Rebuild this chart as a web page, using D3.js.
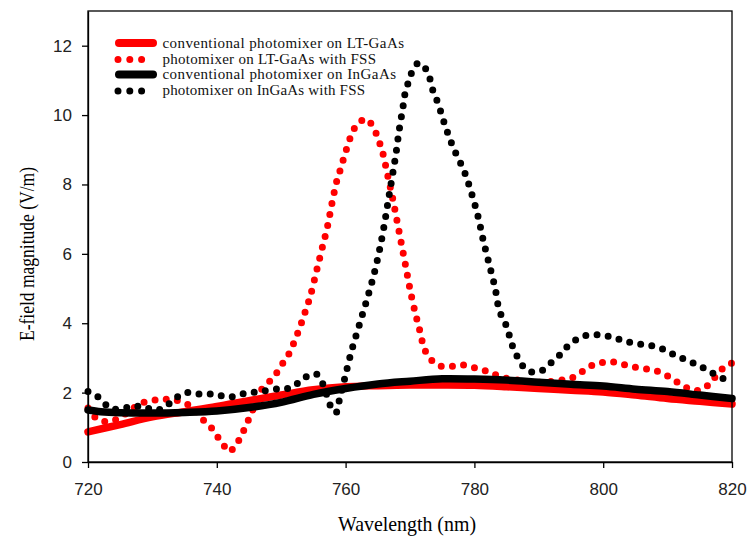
<!DOCTYPE html>
<html>
<head>
<meta charset="utf-8">
<script src="https://cdn.jsdelivr.net/npm/d3@7"></script>
<style>
  html, body { margin: 0; padding: 0; background: #fff; }
  svg { display: block; }
</style>
</head>
<body>
<svg id="chart" width="747" height="537"></svg>
<script>
// ---- data ----
const xTicks = [720, 740, 760, 780, 800, 820];
const yTicks = [0, 2, 4, 6, 8, 10, 12];

const seriesNames = [
  "conventional photomixer on LT-GaAs",
  "photomixer on LT-GaAs with FSS",
  "conventional photomixer on InGaAs",
  "photomixer on InGaAs with FSS"
];

// conventional photomixer on LT-GaAs
const convLTGaAsX = [720,725,730,735,740,745,750,755,760,765,770,775,780,785,790,795,800,805,810,815,820];
const convLTGaAsY = [0.87,1.08,1.3,1.45,1.6,1.77,1.93,2.08,2.17,2.2,2.22,2.22,2.21,2.17,2.12,2.07,2.02,1.93,1.83,1.75,1.67];

// conventional photomixer on InGaAs
const convInGaAsX = [720,722,725,730,735,740,745,750,755,760,765,770,775,780,785,790,795,800,805,810,815,820];
const convInGaAsY = [1.5,1.45,1.42,1.41,1.43,1.47,1.57,1.72,1.95,2.12,2.25,2.33,2.4,2.39,2.36,2.3,2.24,2.19,2.1,2.03,1.93,1.83];

// photomixer on LT-GaAs with FSS
const fssLTGaAsX = [720,721.3,722.8,724.2,725.6,727,728.1,729.4,731.1,732.7,734.4,735.8,737,737.9,739,739.9,740.9,741.8,742.8,743.7,744.5,745.3,746.2,747,748.5,749.6,750.4,751.3,752,752.7,753.3,753.9,754.5,755.4,756.3,757.2,757.9,758.7,759.3,759.8,760.4,761,761.9,763.2,764.4,765.1,765.7,766.5,767.3,768,768.7,769.4,770.1,770.9,771.4,771.8,772.3,773.3,774.5,776.2,778,779.7,781.3,782.7,784,786,788,790,792,793.8,795.3,796.7,798.2,799.6,801.2,802.8,804.4,806.1,807.7,809.2,810.6,811.9,813.2,814.7,816,817,818.1,819.1,820];
const fssLTGaAsY = [1.56,1.26,1.16,1.21,1.36,1.55,1.67,1.77,1.79,1.81,1.74,1.62,1.42,1.21,1.02,0.78,0.54,0.3,0.44,0.73,1.04,1.38,1.75,2.1,2.38,2.65,2.89,3.15,3.45,3.78,4.09,4.43,4.77,5.44,6.12,6.8,7.47,8.15,8.49,8.82,9.16,9.48,9.75,9.89,9.61,9.29,8.96,8.29,7.61,6.94,6.26,5.58,4.89,4.23,3.88,3.55,3.23,2.94,2.78,2.75,2.8,2.73,2.65,2.56,2.46,2.38,2.33,2.3,2.32,2.37,2.44,2.6,2.78,2.86,2.89,2.83,2.75,2.7,2.65,2.56,2.41,2.25,2.12,2.06,2.17,2.37,2.6,2.8,2.85];

// photomixer on InGaAs with FSS
const fssInGaAsX = [720,721.4,722.5,723.7,725.4,727,728.6,730.1,731.7,732.8,733.8,735.2,736.9,738.7,740.2,741.9,743.6,745.2,746.7,748.4,750.1,751.6,752.9,754.2,755.5,756.5,757.7,758.5,759,759.9,760.8,761.3,762.4,763.5,764.5,765.3,766,766.6,767.2,767.8,768.3,768.9,769.2,769.7,770.3,771.3,772.3,773.1,773.6,774.3,775.5,776.8,778.4,779.6,780.6,781.4,782.3,783.2,783.9,784.8,785.4,785.9,786.7,787.6,788.8,790.4,791.7,792.9,793.8,795,796.3,797.8,799.6,801.2,802.8,804.3,805.9,807.5,809.2,810.5,811.9,813.5,814.9,816.2,817.5,819,820];
const fssInGaAsY = [2.03,1.9,1.7,1.53,1.55,1.6,1.6,1.5,1.55,1.71,1.87,2.0,1.96,1.96,1.93,1.87,1.95,2.0,2.03,2.08,2.12,2.14,2.32,2.49,2.53,2.24,1.6,1.42,1.76,2.44,3.12,3.44,4.12,4.8,5.48,6.14,6.83,7.51,8.18,8.86,9.54,10.22,10.59,10.92,11.24,11.5,11.37,11.04,10.68,10.37,9.67,9.03,8.39,7.72,7.05,6.37,5.7,5.03,4.35,4.0,3.66,3.35,3.02,2.75,2.6,2.63,2.83,3.01,3.21,3.42,3.58,3.66,3.66,3.61,3.52,3.44,3.39,3.35,3.26,3.14,3.02,2.89,2.77,2.65,2.51,2.37,2.29];

(function () {
const svg = d3.select("#chart");
const mLeft = 88, mRight = 732, mTop = 11, mBottom = 462;

const x = d3.scaleLinear().domain([720, 820]).range([mLeft, mRight]);
const y = d3.scaleLinear().domain([0, 13]).range([mBottom, mTop]);

const zip = (xs, ys) => xs.map((v, i) => [v, ys[i]]);
const line = d3.line().x(d => x(d[0])).y(d => y(d[1])).curve(d3.curveCatmullRom.alpha(0.5));

const plot = svg.append("g");

const series = [
  { xs: convLTGaAsX, ys: convLTGaAsY, color: "#ff0000", dotted: false },
  { xs: convInGaAsX, ys: convInGaAsY, color: "#000000", dotted: false },
  { xs: fssLTGaAsX, ys: fssLTGaAsY, color: "#ff0000", dotted: true },
  { xs: fssInGaAsX, ys: fssInGaAsY, color: "#000000", dotted: true }
];

const order = [0, 2, 1, 3];
order.forEach(i => {
  const s = series[i];
  const p = plot.append("path")
    .datum(zip(s.xs, s.ys))
    .attr("d", line)
    .attr("fill", "none")
    .attr("stroke", s.color)
    .attr("stroke-linecap", "round")
    .attr("stroke-linejoin", "round");
  if (s.dotted) {
    p.attr("stroke-width", 7).attr("stroke-dasharray", "0 11.2");
  } else {
    p.attr("stroke-width", 7.5);
  }
});

const xAxis = d3.axisBottom(x).tickValues(xTicks).tickSize(6).tickPadding(15).tickSizeOuter(0);
const yAxis = d3.axisLeft(y).tickValues(yTicks).tickSize(6).tickPadding(10).tickSizeOuter(0);

const gx = svg.append("g").attr("transform", `translate(0,${mBottom})`).call(xAxis);
const gy = svg.append("g").attr("transform", `translate(${mLeft},0)`).call(yAxis);
[gx, gy].forEach(g => {
  g.selectAll("text").attr("font-family", "Liberation Sans, Arial, sans-serif").attr("font-size", 17).attr("fill", "#222");
  g.selectAll("line").attr("stroke", "#000").attr("stroke-width", 1.3);
  g.select(".domain").attr("stroke", "#000").attr("stroke-width", 1.3);
});

svg.append("rect")
  .attr("x", mLeft).attr("y", mTop).attr("width", mRight - mLeft).attr("height", mBottom - mTop)
  .attr("fill", "none").attr("stroke", "#000").attr("stroke-width", 1.3);

svg.append("text")
  .attr("x", 407).attr("y", 531)
  .attr("text-anchor", "middle")
  .attr("font-family", "Liberation Serif, Times New Roman, serif")
  .attr("font-size", 21)
  .attr("textLength", 138).attr("lengthAdjust", "spacingAndGlyphs")
  .text("Wavelength (nm)");

svg.append("text")
  .attr("transform", "translate(34,254) rotate(-90)")
  .attr("text-anchor", "middle")
  .attr("font-family", "Liberation Serif, Times New Roman, serif")
  .attr("font-size", 20.5)
  .attr("textLength", 174).attr("lengthAdjust", "spacingAndGlyphs")
  .text("E-field magnitude (V/m)");

const legendRows = [
  { name: seriesNames[0], color: "#ff0000", dotted: false, ly: 43, base: 47.5, end: 404 },
  { name: seriesNames[1], color: "#ff0000", dotted: true,  ly: 59.5, base: 63.5, end: 376 },
  { name: seriesNames[2], color: "#000000", dotted: false, ly: 74.5, base: 78.5, end: 396 },
  { name: seriesNames[3], color: "#000000", dotted: true,  ly: 91, base: 95, end: 365 }
];
const lg = svg.append("g");
legendRows.forEach(r => {
  const l = lg.append("line")
    .attr("x1", r.dotted ? 118 : 119).attr("x2", r.dotted ? 142 : 153)
    .attr("y1", r.ly).attr("y2", r.ly)
    .attr("stroke", r.color).attr("stroke-linecap", "round");
  if (r.dotted) l.attr("stroke-width", 7).attr("stroke-dasharray", "0 11.8");
  else l.attr("stroke-width", 8);
  lg.append("text")
    .attr("x", 162.5).attr("y", r.base)
    .attr("font-family", "Liberation Serif, Times New Roman, serif")
    .attr("font-size", 15)
    .attr("fill", "#111")
    .attr("textLength", r.end - 162.5).attr("lengthAdjust", "spacing")
    .text(r.name);
});
})();
</script>
</body>
</html>
